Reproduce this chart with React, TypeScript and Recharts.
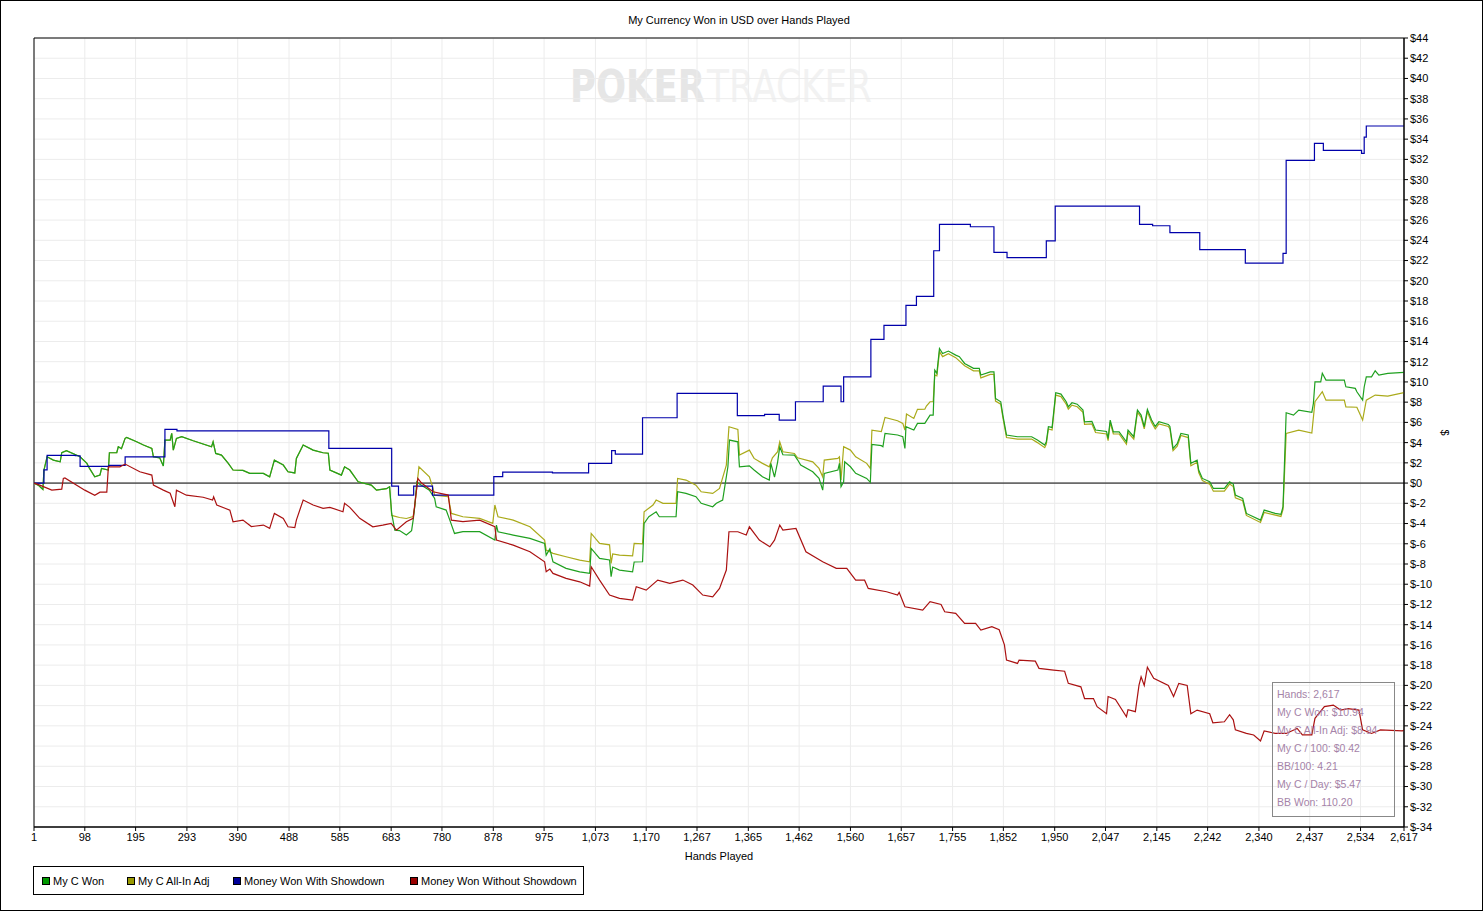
import React from 'react';
import { LineChart, Line, XAxis, YAxis, CartesianGrid, ReferenceLine, ReferenceArea } from 'recharts';

const handTicks = [1, 98, 195, 293, 390, 488, 585, 683, 780, 878, 975, 1073, 1170, 1267, 1365, 1462, 1560, 1657, 1755, 1852, 1950, 2047, 2145, 2242, 2340, 2437, 2534, 2617];
const dollarTicks = [-34, -32, -30, -28, -26, -24, -22, -20, -18, -16, -14, -12, -10, -8, -6, -4, -2, 0, 2, 4, 6, 8, 10, 12, 14, 16, 18, 20, 22, 24, 26, 28, 30, 32, 34, 36, 38, 40, 42, 44];

// hands 1..680: My C Won and All-In Adj are identical
const commonStart: [number, number][] = [
  [1, 0], [9, -0.2], [18, -0.63], [20, 1.29], [26, 2.6], [38, 2.27], [51, 2.1], [54, 3.0], [63, 3.2], [89, 2.6],
  [102, 1.95], [107, 1.45], [117, 0.62], [127, 0.8], [130, 1.45], [143, 1.29], [145, 3.0], [159, 3.0], [162, 3.59],
  [168, 3.4], [175, 4.42], [178, 4.52], [197, 4.08], [210, 3.76], [226, 3.43], [229, 2.6], [241, 2.5], [248, 1.68],
  [251, 4.25], [261, 4.25], [264, 4.91], [267, 3.26], [273, 4.42], [283, 4.58], [305, 4.18], [340, 3.59], [343, 4.08],
  [348, 2.93], [359, 2.77], [372, 1.95], [381, 1.29], [400, 1.25], [413, 0.96], [439, 0.96], [451, 0.62], [460, 2.27],
  [477, 1.78], [486, 1.12], [499, 1.0], [502, 2.44], [515, 3.76], [534, 3.26], [553, 3.0], [563, 2.95], [566, 1.29],
  [588, 0.79], [594, 1.61], [604, 1.29], [620, 0.13], [645, -0.2], [655, -0.7], [674, -0.55], [680, -0.36],
];

const myCWonRest: [number, number][] = [
  [684, -3.0], [690, -4.65], [699, -4.7], [712, -5.14], [722, -4.7], [725, -3.66], [728, -2.34], [732, 0.13], [737, -0.1],
  [756, -0.7], [766, -1.51], [769, -2.34], [788, -2.67], [795, -3.66], [804, -4.98], [820, -4.8], [852, -4.8], [881, -5.64],
  [884, -4.15], [887, -4.81], [916, -5.14], [948, -5.47], [976, -5.97], [979, -7.12], [986, -6.5], [992, -7.78],
  [1017, -8.43], [1043, -8.77], [1062, -8.93], [1065, -6.46], [1081, -7.45], [1100, -7.6], [1103, -9.26], [1106, -8.3],
  [1119, -8.6], [1144, -8.77], [1147, -7.8], [1163, -7.78], [1166, -3.98], [1175, -3.33], [1189, -2.84], [1195, -3.33],
  [1227, -3.33], [1230, -0.86], [1246, -1.02], [1265, -1.35], [1275, -2.0], [1297, -2.34], [1304, -2.0], [1316, -1.68],
  [1326, 1.61], [1329, 4.25], [1345, 4.08], [1348, 1.61], [1367, 1.7], [1376, 1.29], [1392, 0.62], [1405, 0.3],
  [1408, 1.95], [1415, 0.6], [1421, 2.1], [1425, 3.59], [1431, 2.8], [1453, 2.77], [1459, 2.3], [1465, 1.78],
  [1488, 1.12], [1500, 0.46], [1507, -0.7], [1510, 0.96], [1536, 1.29], [1539, 1.95], [1542, -0.36], [1547, 0.13],
  [1549, 2.1], [1560, 1.61], [1570, 0.96], [1591, 0.46], [1598, 0.07], [1601, 3.83], [1619, 3.7], [1622, 3.59],
  [1626, 4.91], [1650, 4.75], [1660, 4.58], [1664, 3.43], [1666, 5.57], [1681, 5.24], [1688, 5.9], [1702, 5.9],
  [1712, 6.72], [1718, 6.72], [1721, 11.17], [1725, 10.85], [1730, 13.3], [1736, 12.8], [1747, 13.05], [1761, 12.65],
  [1768, 12.5], [1778, 11.83], [1795, 11.34], [1806, 11.34], [1809, 10.68], [1827, 11.0], [1834, 11.0], [1837, 8.37],
  [1847, 8.04], [1851, 6.72], [1858, 4.75], [1879, 4.58], [1906, 4.58], [1917, 4.25], [1931, 3.76], [1934, 4.08],
  [1938, 5.57], [1945, 5.5], [1952, 8.93], [1962, 8.8], [1972, 8.04], [1976, 7.54], [1983, 7.94], [1993, 7.8],
  [2004, 7.22], [2007, 6.06], [2021, 6.1], [2028, 5.24], [2049, 5.1], [2052, 4.42], [2056, 6.23], [2062, 5.07],
  [2073, 5.07], [2087, 4.08], [2090, 5.24], [2101, 4.58], [2108, 7.22], [2115, 6.72], [2121, 5.57], [2127, 7.29],
  [2135, 6.23], [2142, 5.6], [2149, 6.06], [2167, 5.8], [2170, 5.6], [2176, 3.43], [2184, 3.9], [2191, 4.91],
  [2205, 4.75], [2210, 1.95], [2222, 2.27], [2225, 1.29], [2232, 0.46], [2246, 0.13], [2253, -0.53], [2274, -0.53],
  [2284, 0.13], [2291, -0.1], [2295, -1.19], [2309, -1.51], [2316, -3.0], [2343, -3.66], [2350, -2.67], [2371, -3.0],
  [2382, -3.1], [2386, -2.34], [2392, 6.95], [2406, 6.72], [2416, 7.22], [2441, 7.0], [2444, 7.88], [2447, 10.01],
  [2458, 10.01], [2461, 10.85], [2468, 10.18], [2503, 10.18], [2506, 9.52], [2524, 9.36], [2527, 9.03], [2538, 8.2],
  [2541, 9.5], [2545, 10.5], [2555, 10.5], [2562, 11.1], [2569, 10.68], [2586, 10.85], [2617, 10.94],
];

const allInAdjRest: [number, number][] = [
  [684, -3.2], [699, -3.4], [712, -3.5], [725, -3.3], [728, -2.34], [736, 1.61], [756, 0.62], [763, -0.53], [766, -1.19],
  [792, -1.35], [798, -3.0], [820, -3.33], [852, -3.49], [877, -3.98], [881, -2.17], [887, -3.33], [916, -3.66],
  [948, -4.32], [976, -5.64], [979, -6.62], [992, -6.95], [1017, -7.28], [1043, -7.61], [1062, -7.78], [1065, -4.98],
  [1081, -5.97], [1100, -6.1], [1103, -7.94], [1106, -7.0], [1119, -7.12], [1144, -7.2], [1147, -5.97], [1163, -6.0],
  [1166, -2.84], [1183, -2.17], [1189, -1.68], [1202, -2.0], [1227, -2.0], [1230, 0.46], [1246, 0.3], [1265, -0.2],
  [1275, -0.86], [1297, -1.02], [1310, -0.53], [1323, 1.78], [1328, 5.57], [1345, 5.31], [1348, 2.77], [1367, 3.26],
  [1376, 2.44], [1392, 1.95], [1405, 1.61], [1411, 2.5], [1421, 3.1], [1425, 4.08], [1431, 3.1], [1453, 2.93],
  [1459, 2.5], [1488, 2.1], [1500, 1.45], [1507, 0.62], [1510, 2.27], [1536, 2.44], [1539, 2.6], [1542, 0.3],
  [1547, 3.59], [1560, 3.26], [1570, 2.6], [1591, 1.95], [1598, 1.45], [1601, 5.24], [1619, 5.1], [1626, 6.49],
  [1650, 6.16], [1660, 5.9], [1664, 5.24], [1667, 6.82], [1681, 6.39], [1688, 7.29], [1702, 7.3], [1705, 7.61],
  [1712, 8.04], [1718, 8.04], [1721, 10.68], [1725, 10.6], [1730, 13.0], [1736, 12.5], [1747, 12.8], [1761, 12.4],
  [1778, 11.6], [1795, 11.1], [1806, 11.1], [1809, 10.4], [1827, 10.75], [1834, 10.75], [1837, 8.1], [1847, 7.8],
  [1851, 6.5], [1858, 4.5], [1879, 4.35], [1906, 4.35], [1917, 4.0], [1931, 3.5], [1934, 3.85], [1938, 5.35],
  [1945, 5.25], [1952, 8.7], [1962, 8.55], [1972, 7.8], [1976, 7.3], [1983, 7.7], [1993, 7.55], [2004, 7.0],
  [2007, 5.8], [2021, 5.85], [2028, 5.0], [2049, 4.85], [2052, 4.2], [2056, 6.0], [2062, 4.85], [2073, 4.85],
  [2087, 3.85], [2090, 5.0], [2101, 4.35], [2108, 7.0], [2115, 6.5], [2121, 5.35], [2127, 7.05], [2135, 6.0],
  [2142, 5.35], [2149, 5.85], [2167, 5.6], [2170, 5.35], [2176, 3.2], [2184, 3.65], [2191, 4.7], [2205, 4.5],
  [2210, 1.7], [2222, 2.05], [2225, 1.05], [2232, 0.25], [2246, -0.1], [2253, -0.8], [2274, -0.8], [2284, -0.1],
  [2291, -0.35], [2295, -1.45], [2309, -1.75], [2316, -3.2], [2343, -3.9], [2350, -2.9], [2382, -3.3], [2386, -2.6],
  [2392, 4.91], [2416, 5.24], [2441, 4.95], [2447, 8.04], [2461, 9.03], [2468, 8.2], [2503, 8.2], [2506, 7.54],
  [2527, 7.5], [2538, 6.23], [2545, 8.2], [2562, 8.7], [2586, 8.6], [2617, 8.94],
];

const withShowdown: [number, number][] = [
  [1, 0], [20, 1.3], [26, 2.74], [80, 2.7], [89, 1.65], [144, 1.75], [175, 2.6], [251, 5.3], [274, 5.17], [564, 3.43],
  [684, -0.3], [697, -1.19], [726, -0.3], [762, -1.19], [879, 0.63], [896, 1.09], [991, 1.0], [1060, 1.95], [1104, 3.2],
  [1111, 2.87], [1163, 6.46], [1229, 8.87], [1344, 6.66], [1396, 6.79], [1424, 6.23], [1455, 8.04], [1508, 9.59],
  [1542, 8.04], [1547, 10.5], [1599, 14.2], [1624, 15.6], [1666, 17.57], [1686, 18.46], [1719, 22.97], [1730, 25.57],
  [1789, 25.34], [1834, 22.8], [1859, 22.28], [1934, 23.95], [1951, 27.38], [2112, 25.57], [2137, 25.44], [2170, 24.75],
  [2227, 23.07], [2314, 21.75], [2386, 22.7], [2392, 31.9], [2446, 33.58], [2463, 32.9], [2536, 32.6], [2541, 34.2],
  [2545, 35.3], [2617, 35.3],
];

const withoutShowdown: [number, number][] = [
  [1, 0], [12, -0.2], [35, -0.7], [54, -0.6], [57, 0.46], [60, 0.5], [98, -0.7], [117, -1.2], [127, -0.9], [140, -0.9],
  [143, 1.6], [165, 1.6], [175, 1.88], [203, 1.12], [226, 0.79], [229, -0.2], [248, -0.7], [261, -1.0], [270, -2.34],
  [273, -0.7], [292, -1.2], [324, -1.4], [342, -1.68], [344, -1.35], [350, -2.17], [375, -2.67], [381, -3.82],
  [400, -3.66], [416, -4.3], [439, -4.15], [451, -4.48], [460, -3.0], [477, -3.49], [486, -4.32], [499, -4.4],
  [502, -3.66], [515, -1.68], [534, -2.17], [553, -2.5], [566, -2.4], [591, -2.83], [594, -2.0], [604, -2.4],
  [623, -3.49], [648, -4.32], [667, -4.15], [683, -3.98], [693, -4.65], [712, -3.82], [725, -3.49], [734, 0.46],
  [741, 0], [763, -0.86], [792, -1.19], [798, -3.66], [820, -3.82], [852, -3.66], [881, -4.32], [884, -5.64],
  [916, -6.13], [948, -6.79], [976, -7.78], [979, -8.77], [986, -8.5], [992, -8.93], [1017, -9.42], [1043, -9.76],
  [1062, -10.18], [1065, -8.27], [1081, -9.59], [1100, -11.07], [1119, -11.4], [1144, -11.57], [1151, -10.25],
  [1170, -10.58], [1192, -9.59], [1215, -9.92], [1240, -9.59], [1259, -10.08], [1278, -11.07], [1297, -11.24],
  [1310, -10.41], [1323, -8.6], [1328, -4.81], [1345, -4.81], [1361, -5.14], [1367, -4.32], [1386, -5.64], [1406, -6.3],
  [1415, -5.64], [1425, -4.15], [1431, -4.65], [1456, -4.48], [1475, -6.79], [1507, -7.78], [1533, -8.43],
  [1539, -8.43], [1553, -8.43], [1570, -9.59], [1587, -9.6], [1594, -10.41], [1629, -10.74], [1650, -11.07],
  [1653, -10.8], [1664, -12.23], [1698, -12.56], [1712, -11.73], [1733, -12.0], [1740, -12.72], [1761, -12.88],
  [1778, -13.87], [1799, -13.87], [1809, -14.53], [1830, -14.2], [1844, -14.5], [1854, -16.0], [1858, -17.5],
  [1879, -17.83], [1882, -17.5], [1913, -17.6], [1920, -18.32], [1948, -18.49], [1969, -18.6], [1976, -19.8],
  [2000, -20.14], [2007, -21.3], [2024, -21.3], [2031, -22.1], [2049, -22.8], [2052, -21.1], [2066, -21.4],
  [2087, -23.1], [2090, -22.4], [2104, -22.6], [2111, -19.97], [2115, -19.15], [2121, -20.0], [2127, -18.2],
  [2139, -19.3], [2167, -20.0], [2177, -21.1], [2187, -19.8], [2203, -20.0], [2210, -22.8], [2222, -22.44],
  [2246, -22.8], [2252, -23.7], [2274, -23.6], [2284, -22.9], [2291, -23.4], [2295, -24.4], [2316, -24.75],
  [2330, -24.9], [2343, -25.5], [2350, -24.5], [2371, -24.75], [2392, -24.75], [2413, -24.25], [2423, -24.9],
  [2441, -24.9], [2447, -23.26], [2465, -22.1], [2482, -21.95], [2496, -22.44], [2510, -22.3], [2531, -22.44],
  [2538, -24.4], [2555, -24.75], [2572, -24.4], [2614, -24.5], [2617, -24.4],
];

const seriesNames = ['My C Won', 'My C All-In Adj', 'Money Won With Showdown', 'Money Won Without Showdown'];
const legendColors = ['#009900', '#999900', '#000099', '#990000'];
const lineColors = ['#1fa01f', '#aaaa1a', '#0000aa', '#aa1111'];

const statLabels = ['Hands', 'My C Won', 'My C All-In Adj', 'My C / 100', 'BB/100', 'My C / Day', 'BB Won'];
const statValues = ['2,617', '$10.94', '$8.94', '$0.42', '4.21', '$5.47', '110.20'];

const toRows = (pts: [number, number][]) => pts.map(([h, v]) => ({ h, v }));

const FONT = '"Liberation Sans", Arial, sans-serif';

const XTitle = (props: any) => {
  const vb = props.viewBox || { x: 34, y: 827, width: 1370 };
  return (
    <text x={vb.x + vb.width / 2} y={vb.y + 33} textAnchor="middle" fontSize={11} fontFamily={FONT} fill="#000">
      Hands Played
    </text>
  );
};

const YTitle = (props: any) => {
  const vb = props.viewBox || { x: 1404, y: 38, height: 789 };
  const x = vb.x + 41;
  const y = vb.y + vb.height / 2;
  return (
    <text x={x} y={y} transform={`rotate(90 ${x} ${y})`} textAnchor="middle" dominantBaseline="central" fontSize={11} fontFamily={FONT} fill="#000">
      $
    </text>
  );
};

export default function App() {
  const green = toRows([...commonStart, ...myCWonRest]);
  const olive = toRows([...commonStart, ...allInAdjRest]);
  const blue = toRows(withShowdown);
  const red = toRows(withoutShowdown);
  const legendX = [41, 126, 232, 409];

  return (
    <div style={{ position: 'absolute', left: 0, top: 0, width: 1484, height: 912, background: '#fff', fontFamily: FONT }}>
      <div style={{ position: 'absolute', left: 0, top: 0, width: 1483, height: 911, border: '1px solid #000', boxSizing: 'border-box' }} />
      <svg width={1484} height={912} style={{ position: 'absolute', left: 0, top: 0 }}>
        <text x={570} y={102} fontSize={44} fontWeight="bold" fontFamily='"Liberation Sans Narrow", "DejaVu Sans Condensed", sans-serif' fill="#e6e6e6" textLength={135} lengthAdjust="spacingAndGlyphs">POKER</text>
        <text x={707} y={102} fontSize={44} fontFamily='"Liberation Sans Narrow", "DejaVu Sans Condensed", sans-serif' fill="#f2f2f2" textLength={165} lengthAdjust="spacingAndGlyphs">TRACKER</text>
      </svg>
      <div style={{ position: 'absolute', left: 0, top: 14, width: 1478, textAlign: 'center', fontSize: 11, color: '#000' }}>
        My Currency Won in USD over Hands Played
      </div>
      <div style={{ position: 'absolute', left: 0, top: 0 }}>
        <LineChart width={1484} height={912} margin={{ top: 38, left: 34, right: 20, bottom: 55 }}>
          <CartesianGrid stroke="#ececec" strokeWidth={1} horizontal vertical />
          <XAxis
            dataKey="h"
            type="number"
            domain={[1, 2617]}
            ticks={handTicks}
            interval={0}
            allowDataOverflow
            height={30}
            tickSize={4}
            tickMargin={2}
            stroke="#000"
            tick={{ fill: '#000', fontSize: 11, fontFamily: FONT }}
            tickFormatter={(v: number) => v.toLocaleString('en-US')}
            label={<XTitle />}
          />
          <YAxis
            orientation="right"
            type="number"
            domain={[-34, 44]}
            ticks={dollarTicks}
            interval={0}
            allowDataOverflow
            width={60}
            tickSize={4}
            tickMargin={2}
            stroke="#000"
            tick={{ fill: '#000', fontSize: 11, fontFamily: FONT }}
            tickFormatter={(v: number) => '$' + v}
            label={<YTitle />}
          />
          <ReferenceArea x1={1} x2={2617} y1={-34} y2={44} fill="#fff" fillOpacity={0} stroke="#000" strokeWidth={1} ifOverflow="visible" />
          <ReferenceLine y={0} stroke="#000" strokeWidth={1} />
          <Line data={olive} dataKey="v" name={seriesNames[1]} type="linear" stroke={lineColors[1]} strokeWidth={1.2} dot={false} isAnimationActive={false} />
          <Line data={green} dataKey="v" name={seriesNames[0]} type="linear" stroke={lineColors[0]} strokeWidth={1.2} dot={false} isAnimationActive={false} />
          <Line data={blue} dataKey="v" name={seriesNames[2]} type="stepAfter" stroke={lineColors[2]} strokeWidth={1.2} dot={false} isAnimationActive={false} />
          <Line data={red} dataKey="v" name={seriesNames[3]} type="linear" stroke={lineColors[3]} strokeWidth={1.2} dot={false} isAnimationActive={false} />
        </LineChart>
      </div>
      <div style={{ position: 'absolute', left: 1272, top: 682, width: 123, height: 135, border: '1px solid #888', boxSizing: 'border-box', paddingTop: 2, paddingLeft: 4, fontSize: 10.5, lineHeight: '18px', color: '#a583a8' }}>
        {statLabels.map((l, i) => (
          <div key={l} style={{ whiteSpace: 'nowrap' }}>{l}: {statValues[i]}</div>
        ))}
      </div>
      <div style={{ position: 'absolute', left: 33, top: 866, width: 551, height: 29, border: '1px solid #000', boxSizing: 'border-box' }}>
        {seriesNames.map((n, i) => (
          <div key={n} style={{ position: 'absolute', left: legendX[i] - 33, top: 0, height: 27, display: 'flex', alignItems: 'center', fontSize: 11, color: '#000', whiteSpace: 'nowrap' }}>
            <span style={{ display: 'inline-block', width: 6, height: 6, background: legendColors[i], border: '1px solid #000', marginRight: 3 }} />
            {n}
          </div>
        ))}
      </div>
    </div>
  );
}
